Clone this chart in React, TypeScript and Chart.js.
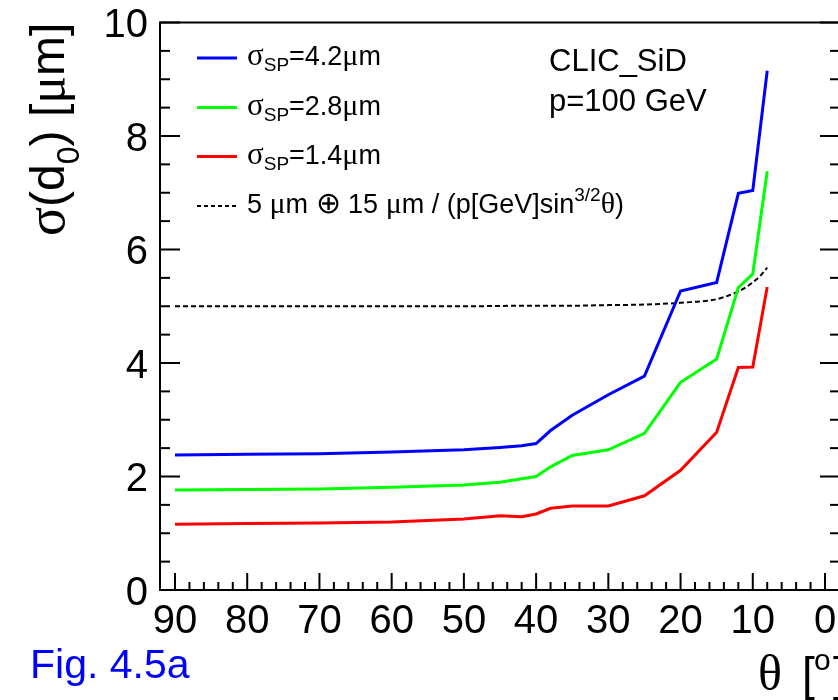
import React, { useEffect, useRef } from "react";
import { Chart, registerables } from "chart.js";

Chart.register(...registerables);

// ---- data ----
const theta = [90, 80, 70, 60, 50, 45, 42, 40, 38, 35, 30, 25, 20, 15, 12, 10, 8];
const sigmaSP42 = [2.38, 2.39, 2.4, 2.43, 2.47, 2.51, 2.54, 2.58, 2.81, 3.08, 3.44, 3.77, 5.27, 5.42, 6.99, 7.04, 9.15];
const sigmaSP28 = [1.76, 1.77, 1.78, 1.81, 1.85, 1.9, 1.96, 2.0, 2.17, 2.37, 2.47, 2.76, 3.66, 4.07, 5.33, 5.57, 7.38];
const sigmaSP14 = [1.16, 1.17, 1.18, 1.2, 1.25, 1.31, 1.29, 1.34, 1.44, 1.48, 1.48, 1.66, 2.11, 2.78, 3.92, 3.93, 5.34];
const thetaParam = [90, 80, 70, 60, 50, 40, 35, 30, 25, 20, 18, 16, 14, 12, 11, 10, 9, 8];
const paramValues = [5.0, 5.0, 5.0, 5.0, 5.0, 5.01, 5.01, 5.02, 5.03, 5.06, 5.08, 5.1, 5.16, 5.26, 5.33, 5.42, 5.53, 5.68];

const xTickValues = [90, 80, 70, 60, 50, 40, 30, 20, 10, 0];
const xTickLabels = ["90", "80", "70", "60", "50", "40", "30", "20", "10", "0"];
const yTickValues = [0, 2, 4, 6, 8, 10];
const yTickLabels = ["0", "2", "4", "6", "8", "10"];

const seriesColors = ["#0000ff", "#00ff00", "#ff0000"];
const seriesLabels = ["4.2", "2.8", "1.4"];

const SANS = '"Liberation Sans", Arial, Helvetica, sans-serif';
const SERIF = '"Liberation Serif", "Times New Roman", serif';

type Seg = { t: string; size: number; serif?: boolean; dy?: number; dx?: number };

function drawRich(ctx: CanvasRenderingContext2D, x: number, y: number, segs: Seg[]) {
  let cx = x;
  for (const s of segs) {
    ctx.font = `${s.size}px ${s.serif ? SERIF : SANS}`;
    cx += s.dx || 0;
    ctx.fillText(s.t, cx, y + (s.dy || 0));
    cx += ctx.measureText(s.t).width;
  }
  return cx;
}

function seg(ctx: CanvasRenderingContext2D, x1: number, y1: number, x2: number, y2: number) {
  ctx.beginPath();
  ctx.moveTo(x1, y1);
  ctx.lineTo(x2, y2);
  ctx.stroke();
}

const rootStyle = {
  id: "rootStyle",
  afterDatasetsDraw(chart: any) {
    const { ctx, chartArea: a, scales } = chart;
    const xs = scales.x;
    const ys = scales.y;
    ctx.save();
    ctx.strokeStyle = "#000";
    ctx.fillStyle = "#000";
    ctx.lineWidth = 2;
    ctx.setLineDash([]);
    ctx.strokeRect(a.left, a.top, a.right - a.left, a.bottom - a.top);

    // y ticks (major every 2, minor every 0.5) on both sides, pointing in
    for (let i = 0; i <= 20; i++) {
      const v = i * 0.5;
      const py = ys.getPixelForValue(v);
      const len = i % 4 === 0 ? 20 : 10;
      seg(ctx, a.left, py, a.left + len, py);
      seg(ctx, a.right, py, a.right - len, py);
    }
    // x ticks (major every 10, minor every 2)
    for (let i = 0; i <= 45; i++) {
      const v = i * 2;
      const px = xs.getPixelForValue(v);
      const len = v % 10 === 0 ? 17 : 8;
      seg(ctx, px, a.bottom, px, a.bottom - len);
    }

    // tick labels
    ctx.font = `40px ${SANS}`;
    ctx.textBaseline = "alphabetic";
    ctx.textAlign = "right";
    yTickValues.forEach((v, i) => {
      ctx.fillText(yTickLabels[i], 148, ys.getPixelForValue(v) + 14.5);
    });
    ctx.textAlign = "center";
    xTickValues.forEach((v, i) => {
      ctx.fillText(xTickLabels[i], xs.getPixelForValue(v), a.bottom + 43);
    });

    ctx.textAlign = "left";
    // y axis title (rotated)
    ctx.save();
    ctx.translate(64, 236);
    ctx.rotate(-Math.PI / 2);
    drawRich(ctx, 0, 0, [
      { t: "σ", size: 54, serif: true },
      { t: "(d", size: 48 },
      { t: "0", size: 32, dy: 15 },
      { t: ") [", size: 48 },
      { t: "μ", size: 52, serif: true },
      { t: "m]", size: 48 },
    ]);
    ctx.restore();

    // x axis title
    ctx.font = `50px ${SERIF}`;
    ctx.fillText("θ", 758, 690);
    ctx.font = `46px ${SANS}`;
    ctx.fillText("[", 802, 690);
    ctx.font = `30px ${SANS}`;
    ctx.fillText("o", 814, 670);
    ctx.font = `46px ${SANS}`;
    ctx.fillText("]", 833, 690);

    // Fig label
    ctx.fillStyle = "#0000ff";
    ctx.font = `41px ${SANS}`;
    ctx.fillText("Fig. 4.5a", 30, 678);

    // CLIC_SiD text
    ctx.fillStyle = "#000";
    ctx.font = `31px ${SANS}`;
    ctx.fillText("CLIC_SiD", 549, 71);
    ctx.fillText("p=100 GeV", 549, 111);

    // legend
    const rows = [65, 114.5, 163.5];
    seriesLabels.forEach((lab, i) => {
      const yb = rows[i];
      ctx.strokeStyle = seriesColors[i];
      ctx.lineWidth = 3;
      seg(ctx, 197, yb - 7, 237, yb - 7);
      ctx.fillStyle = "#000";
      drawRich(ctx, 247, yb, [
        { t: "σ", size: 31, serif: true },
        { t: "SP", size: 19, dy: 6 },
        { t: "=" + lab, size: 27 },
        { t: "μ", size: 30, serif: true },
        { t: "m", size: 27 },
      ]);
    });
    const yd = 213;
    ctx.strokeStyle = "#000";
    ctx.lineWidth = 2;
    ctx.setLineDash([4, 3]);
    seg(ctx, 197, yd - 7, 237, yd - 7);
    ctx.setLineDash([]);
    drawRich(ctx, 247, yd, [
      { t: "5 ", size: 27 },
      { t: "μ", size: 30, serif: true },
      { t: "m ", size: 27 },
      { t: "⊕", size: 30, serif: true },
      { t: " 15 ", size: 27 },
      { t: "μ", size: 30, serif: true },
      { t: "m / (p[GeV]sin", size: 27 },
      { t: "3/2", size: 19, dy: -12 },
      { t: "θ", size: 30, serif: true },
      { t: ")", size: 27 },
    ]);
    ctx.restore();
  },
};

export default function App() {
  const ref = useRef<HTMLCanvasElement | null>(null);
  useEffect(() => {
    if (!ref.current) return;
    const mk = (vals: number[], xsArr: number[]) => xsArr.map((x, i) => ({ x, y: vals[i] }));
    const chart = new Chart(ref.current, {
      type: "line",
      data: {
        datasets: [
          { label: "σSP=4.2μm", data: mk(sigmaSP42, theta), borderColor: seriesColors[0], borderWidth: 3, pointRadius: 0, tension: 0 },
          { label: "σSP=2.8μm", data: mk(sigmaSP28, theta), borderColor: seriesColors[1], borderWidth: 3, pointRadius: 0, tension: 0 },
          { label: "σSP=1.4μm", data: mk(sigmaSP14, theta), borderColor: seriesColors[2], borderWidth: 3, pointRadius: 0, tension: 0 },
          {
            label: "5 μm ⊕ 15 μm / (p[GeV]sin^{3/2}θ)",
            data: mk(paramValues, thetaParam),
            borderColor: "#000",
            borderWidth: 2,
            borderDash: [5, 3],
            pointRadius: 0,
            cubicInterpolationMode: "monotone",
          },
        ],
      },
      options: {
        animation: false,
        responsive: false,
        devicePixelRatio: 1,
        layout: { padding: { left: 160, right: 30, top: 22.5, bottom: 110 } },
        plugins: { legend: { display: false }, title: { display: false }, tooltip: { enabled: false } },
        scales: {
          x: { type: "linear", min: -2.077, max: 92.077, reverse: true, display: false },
          y: { type: "linear", min: 0, max: 10, display: false },
        },
      },
      plugins: [rootStyle],
    } as any);
    return () => chart.destroy();
  }, []);
  return (
    <div style={{ position: "fixed", left: 0, top: 0, width: 838, height: 700, overflow: "hidden", background: "#fff" }}>
      <canvas ref={ref} width={870} height={700} style={{ width: 870, height: 700, display: "block" }} />
    </div>
  );
}
